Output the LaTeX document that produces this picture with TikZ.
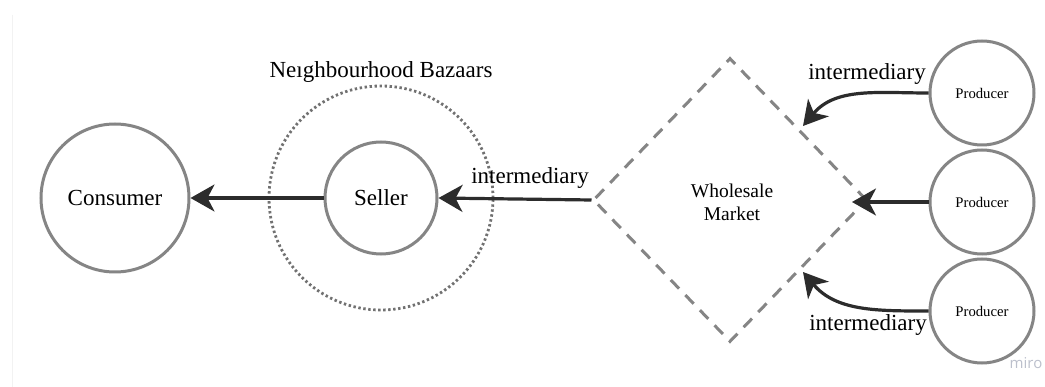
\documentclass[tikz,border=0pt]{standalone}
\usepackage{fontspec}
\setmainfont{Liberation Serif}
\newfontfamily\logofont{Open Sans}
\usetikzlibrary{arrows.meta,shapes.geometric}
\definecolor{ringgray}{HTML}{858585}
\definecolor{arrowdark}{HTML}{2C2C2C}
\definecolor{logogray}{HTML}{BCC0CC}
\begin{document}
\begin{tikzpicture}[x=1pt,y=-1pt,
  ring/.style={circle,draw=ringgray,line width=3pt,inner sep=0pt},
  flow/.style={draw=arrowdark,line width=3.2pt,
    -{Stealth[length=24pt,width=27pt,inset=7pt]}},
  bigtext/.style={font=\fontsize{23}{27}\selectfont},
  midtext/.style={font=\fontsize{19.5}{23}\selectfont,align=center},
  smalltext/.style={font=\fontsize{14.7}{17}\selectfont}]
\useasboundingbox (0,0) rectangle (1045,387);
\fill[white] (0,0) rectangle (1045,387);
\draw[gray!10,line width=1pt] (12,15) -- (12,387);

% consumer and seller inside the bazaar ring
\node[ring,minimum size=148pt] (consumer) at (115,198) {};
\node[bigtext] at (consumer) {Consumer};
\node[circle,draw=ringgray!85!black,line width=2.8pt,dash pattern=on 2.4pt off 2.6pt,
  minimum size=224pt,inner sep=0pt] (bazaar) at (381,198) {};
\node[ring,minimum size=112pt] (seller) at (381,198) {};
\node[bigtext] at (seller) {Seller};
\node[bigtext] (bazlabel) at (381,72) {Ne\i ghbourhood Bazaars};

% wholesale market
\node[diamond,draw=ringgray,line width=3pt,dash pattern=on 12pt off 9pt,
  minimum width=274pt,minimum height=284pt,inner sep=0pt] (wm) at (730,200) {};
\node[midtext] (wmlabel) at (732,202) {Wholesale\\Market};

% producers
\node[ring,minimum size=104pt] (p1) at (982,93) {};
\node[ring,minimum size=104pt] (p2) at (982,202) {};
\node[ring,minimum size=104pt] (p3) at (982,311) {};
\foreach \p in {p1,p2,p3}{\node[smalltext] at (\p) {Producer};}

% arrow end points on the market edge
\coordinate (m1) at (803,126);
\coordinate (m2) at (852,202);
\coordinate (m3) at (803,272);

% flows
\draw[flow] (p1.west) to[out=180,in=50] (m1);
\draw[flow] (p2.west) -- (m2);
\draw[flow] (p3.west) to[out=180,in=-50] (m3);
\draw[flow] (wm.west) -- (seller.east);
\draw[flow] (seller.west) -- (consumer.east);

% labels
\node[bigtext] (l1) at (867,74) {intermediary};
\node[bigtext] (l3) at (868,325) {intermediary};
\node[bigtext] (l0) at (530,178) {intermediary};

\node[logogray,font=\logofont\fontsize{15}{17}\selectfont] (logo) at (1026,363) {miro};
\end{tikzpicture}
\end{document}
